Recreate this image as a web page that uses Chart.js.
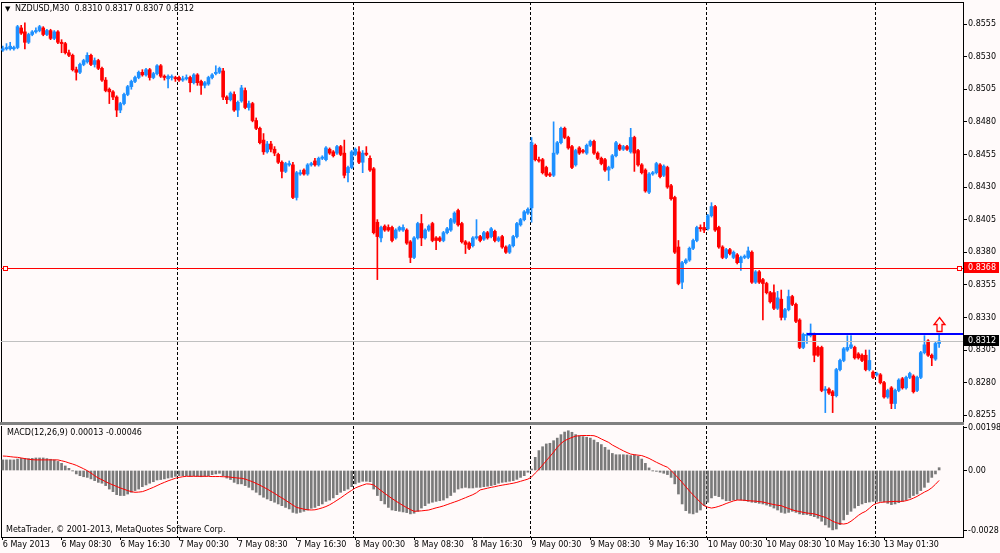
<!DOCTYPE html>
<html>
<head>
<meta charset="utf-8">
<title>NZDUSD,M30</title>
<script src="https://cdn.jsdelivr.net/npm/chart.js@4.4.1/dist/chart.umd.min.js"></script>
<style>
    html, body { margin: 0; padding: 0; background: #fffafa; }
    body { width: 1000px; height: 553px; position: relative; overflow: hidden;
           font-family: "DejaVu Sans", sans-serif; font-size: 8px; color: #000; }
    #mainBox { position: absolute; left: 0; top: 0; width: 1000px; height: 424px; }
    #macdBox { position: absolute; left: 0; top: 418px; width: 1000px; height: 135px; }
    #sep { position: absolute; left: 0; top: 422px; width: 964px; height: 3px; background: #808080; }
    .lbl { position: absolute; white-space: pre; line-height: 10px; }
</style>
</head>
<body>
<div id="mainBox"><canvas id="mainChart"></canvas></div>
<div id="macdBox"><canvas id="macdChart"></canvas></div>
<div id="sep"></div>
<div class="lbl" style="left:5px;top:4px;font-size:7px">▼</div>
<div class="lbl" style="left:15px;top:4px">NZDUSD,M30  0.8310 0.8317 0.8307 0.8312</div>
<div class="lbl" style="left:7px;top:428px">MACD(12,26,9) 0.00013 -0.00046</div>
<div class="lbl" style="left:6px;top:525px">MetaTrader, © 2001-2013, MetaQuotes Software Corp.</div>

<script>
// NZDUSD M30 candles, bar 0 = 6 May 2013 00:30
const opens = [
    0.8535, 0.8536, 0.8536, 0.8536, 0.8537, 0.8552, 0.8549, 0.8541, 0.8547, 0.8549,
    0.8550, 0.8552, 0.8547, 0.8550, 0.8544, 0.8549, 0.8541, 0.8540, 0.8533, 0.8531,
    0.8520, 0.8518, 0.8524, 0.8526, 0.8531, 0.8524, 0.8527, 0.8521, 0.8512, 0.8505,
    0.8503, 0.8499, 0.8489, 0.8494, 0.8501, 0.8507, 0.8511, 0.8514, 0.8518, 0.8516,
    0.8520, 0.8514, 0.8517, 0.8523, 0.8515, 0.8513, 0.8514, 0.8514, 0.8514, 0.8512,
    0.8513, 0.8514, 0.8510, 0.8516, 0.8511, 0.8508, 0.8509, 0.8514, 0.8517, 0.8518,
    0.8519, 0.8499, 0.8497, 0.8501, 0.8489, 0.8496, 0.8504, 0.8491, 0.8494, 0.8481,
    0.8475, 0.8466, 0.8457, 0.8463, 0.8459, 0.8455, 0.8449, 0.8442, 0.8447, 0.8447,
    0.8422, 0.8440, 0.8443, 0.8440, 0.8447, 0.8450, 0.8447, 0.8452, 0.8451, 0.8459,
    0.8457, 0.8456, 0.8461, 0.8456, 0.8441, 0.8445, 0.8455, 0.8457, 0.8449, 0.8456,
    0.8452, 0.8444, 0.8403, 0.8391, 0.8400, 0.8399, 0.8399, 0.8391, 0.8397, 0.8397,
    0.8397, 0.8388, 0.8376, 0.8391, 0.8402, 0.8391, 0.8397, 0.8402, 0.8391, 0.8391,
    0.8389, 0.8395, 0.8397, 0.8403, 0.8412, 0.8402, 0.8388, 0.8387, 0.8385, 0.8391,
    0.8392, 0.8390, 0.8395, 0.8392, 0.8396, 0.8389, 0.8392, 0.8384, 0.8380, 0.8385,
    0.8392, 0.8401, 0.8405, 0.8410, 0.8414, 0.8462, 0.8451, 0.8451, 0.8445, 0.8440,
    0.8439, 0.8456, 0.8464, 0.8475, 0.8468, 0.8461, 0.8447, 0.8460, 0.8458, 0.8456,
    0.8462, 0.8465, 0.8456, 0.8452, 0.8451, 0.8443, 0.8445, 0.8454, 0.8462, 0.8459,
    0.8461, 0.8457, 0.8468, 0.8458, 0.8447, 0.8443, 0.8426, 0.8440, 0.8441, 0.8447,
    0.8439, 0.8445, 0.8431, 0.8422, 0.8384, 0.8357, 0.8372, 0.8374, 0.8383, 0.8389,
    0.8399, 0.8399, 0.8398, 0.8408, 0.8415, 0.8399, 0.8384, 0.8376, 0.8382, 0.8376,
    0.8378, 0.8372, 0.8376, 0.8376, 0.8380, 0.8357, 0.8365, 0.8359, 0.8356, 0.8349,
    0.8349, 0.8337, 0.8344, 0.8330, 0.8336, 0.8346, 0.8340, 0.8328, 0.8307, 0.8316,
    0.8316, 0.8317, 0.8307, 0.8307, 0.8274, 0.8275, 0.8273, 0.8270, 0.8290, 0.8297,
    0.8305, 0.8307, 0.8307, 0.8302, 0.8301, 0.8301, 0.8290, 0.8288, 0.8286, 0.8286,
    0.8280, 0.8269, 0.8276, 0.8264, 0.8274, 0.8283, 0.8276, 0.8284, 0.8285, 0.8274,
    0.8284, 0.8303, 0.8312, 0.8301, 0.8298, 0.8310
];
const highs = [
    0.8538, 0.8540, 0.8541, 0.8538, 0.8554, 0.8554, 0.8556, 0.8548, 0.8550, 0.8552,
    0.8554, 0.8553, 0.8551, 0.8551, 0.8550, 0.8550, 0.8543, 0.8541, 0.8535, 0.8532,
    0.8522, 0.8525, 0.8528, 0.8533, 0.8532, 0.8529, 0.8528, 0.8522, 0.8514, 0.8506,
    0.8504, 0.8500, 0.8495, 0.8502, 0.8508, 0.8512, 0.8515, 0.8519, 0.8520, 0.8521,
    0.8521, 0.8518, 0.8524, 0.8524, 0.8516, 0.8516, 0.8516, 0.8515, 0.8515, 0.8515,
    0.8516, 0.8515, 0.8517, 0.8517, 0.8512, 0.8511, 0.8515, 0.8517, 0.8523, 0.8522,
    0.8521, 0.8500, 0.8503, 0.8503, 0.8496, 0.8508, 0.8506, 0.8496, 0.8495, 0.8483,
    0.8476, 0.8471, 0.8465, 0.8465, 0.8461, 0.8456, 0.8450, 0.8449, 0.8450, 0.8449,
    0.8442, 0.8443, 0.8444, 0.8448, 0.8449, 0.8452, 0.8453, 0.8454, 0.8461, 0.8460,
    0.8458, 0.8462, 0.8462, 0.8466, 0.8446, 0.8458, 0.8460, 0.8461, 0.8458, 0.8461,
    0.8454, 0.8445, 0.8405, 0.8400, 0.8401, 0.8401, 0.8400, 0.8398, 0.8400, 0.8401,
    0.8398, 0.8389, 0.8392, 0.8403, 0.8409, 0.8398, 0.8401, 0.8403, 0.8392, 0.8392,
    0.8396, 0.8399, 0.8406, 0.8411, 0.8413, 0.8403, 0.8389, 0.8388, 0.8392, 0.8405,
    0.8393, 0.8396, 0.8396, 0.8399, 0.8397, 0.8392, 0.8393, 0.8385, 0.8386, 0.8393,
    0.8403, 0.8406, 0.8412, 0.8414, 0.8468, 0.8463, 0.8453, 0.8452, 0.8446, 0.8441,
    0.8480, 0.8465, 0.8476, 0.8476, 0.8469, 0.8462, 0.8459, 0.8461, 0.8459, 0.8463,
    0.8466, 0.8466, 0.8457, 0.8453, 0.8452, 0.8446, 0.8455, 0.8465, 0.8463, 0.8462,
    0.8462, 0.8475, 0.8469, 0.8459, 0.8448, 0.8444, 0.8441, 0.8442, 0.8449, 0.8448,
    0.8447, 0.8446, 0.8432, 0.8423, 0.8389, 0.8373, 0.8375, 0.8384, 0.8390, 0.8400,
    0.8401, 0.8403, 0.8409, 0.8418, 0.8416, 0.8400, 0.8385, 0.8383, 0.8383, 0.8381,
    0.8379, 0.8377, 0.8378, 0.8384, 0.8381, 0.8366, 0.8366, 0.8360, 0.8357, 0.8350,
    0.8355, 0.8350, 0.8351, 0.8337, 0.8351, 0.8347, 0.8341, 0.8329, 0.8318, 0.8318,
    0.8325, 0.8318, 0.8308, 0.8308, 0.8277, 0.8276, 0.8274, 0.8291, 0.8298, 0.8307,
    0.8316, 0.8316, 0.8308, 0.8303, 0.8302, 0.8305, 0.8305, 0.8289, 0.8288, 0.8287,
    0.8281, 0.8275, 0.8277, 0.8275, 0.8283, 0.8284, 0.8285, 0.8288, 0.8286, 0.8285,
    0.8304, 0.8316, 0.8313, 0.8302, 0.8311, 0.8317
];
const lows = [
    0.8534, 0.8535, 0.8535, 0.8535, 0.8536, 0.8547, 0.8536, 0.8540, 0.8546, 0.8548,
    0.8549, 0.8546, 0.8546, 0.8543, 0.8543, 0.8540, 0.8533, 0.8532, 0.8530, 0.8519,
    0.8512, 0.8517, 0.8523, 0.8525, 0.8523, 0.8522, 0.8520, 0.8511, 0.8503, 0.8494,
    0.8497, 0.8484, 0.8487, 0.8493, 0.8500, 0.8505, 0.8510, 0.8513, 0.8515, 0.8515,
    0.8512, 0.8513, 0.8516, 0.8514, 0.8512, 0.8506, 0.8512, 0.8511, 0.8511, 0.8511,
    0.8512, 0.8503, 0.8509, 0.8508, 0.8501, 0.8506, 0.8508, 0.8513, 0.8516, 0.8517,
    0.8497, 0.8494, 0.8496, 0.8488, 0.8484, 0.8495, 0.8490, 0.8489, 0.8480, 0.8474,
    0.8463, 0.8455, 0.8456, 0.8457, 0.8454, 0.8448, 0.8437, 0.8441, 0.8446, 0.8421,
    0.8420, 0.8439, 0.8439, 0.8439, 0.8446, 0.8446, 0.8446, 0.8451, 0.8450, 0.8455,
    0.8453, 0.8455, 0.8454, 0.8437, 0.8434, 0.8444, 0.8454, 0.8448, 0.8441, 0.8454,
    0.8442, 0.8394, 0.8359, 0.8388, 0.8396, 0.8396, 0.8388, 0.8390, 0.8396, 0.8396,
    0.8386, 0.8372, 0.8375, 0.8390, 0.8385, 0.8390, 0.8396, 0.8388, 0.8382, 0.8388,
    0.8388, 0.8394, 0.8396, 0.8402, 0.8400, 0.8387, 0.8379, 0.8382, 0.8384, 0.8390,
    0.8388, 0.8389, 0.8390, 0.8391, 0.8388, 0.8388, 0.8383, 0.8379, 0.8379, 0.8384,
    0.8391, 0.8400, 0.8404, 0.8409, 0.8403, 0.8450, 0.8449, 0.8440, 0.8438, 0.8438,
    0.8438, 0.8455, 0.8463, 0.8467, 0.8459, 0.8444, 0.8446, 0.8455, 0.8456, 0.8455,
    0.8461, 0.8455, 0.8451, 0.8447, 0.8442, 0.8435, 0.8444, 0.8453, 0.8458, 0.8458,
    0.8458, 0.8456, 0.8442, 0.8446, 0.8440, 0.8426, 0.8425, 0.8439, 0.8440, 0.8437,
    0.8438, 0.8429, 0.8420, 0.8379, 0.8355, 0.8352, 0.8371, 0.8373, 0.8382, 0.8388,
    0.8396, 0.8395, 0.8397, 0.8407, 0.8396, 0.8383, 0.8375, 0.8375, 0.8378, 0.8375,
    0.8371, 0.8366, 0.8375, 0.8375, 0.8356, 0.8356, 0.8356, 0.8328, 0.8348, 0.8341,
    0.8336, 0.8336, 0.8328, 0.8328, 0.8335, 0.8339, 0.8326, 0.8306, 0.8306, 0.8310,
    0.8315, 0.8296, 0.8300, 0.8273, 0.8257, 0.8271, 0.8257, 0.8269, 0.8289, 0.8296,
    0.8304, 0.8306, 0.8298, 0.8298, 0.8296, 0.8289, 0.8289, 0.8283, 0.8285, 0.8279,
    0.8268, 0.8268, 0.8260, 0.8260, 0.8273, 0.8275, 0.8275, 0.8283, 0.8272, 0.8273,
    0.8283, 0.8302, 0.8300, 0.8293, 0.8297, 0.8307
];
const closes = [
    0.8536, 0.8537, 0.8538, 0.8537, 0.8553, 0.8548, 0.8541, 0.8547, 0.8549, 0.8550,
    0.8553, 0.8547, 0.8550, 0.8544, 0.8549, 0.8541, 0.8540, 0.8533, 0.8531, 0.8520,
    0.8518, 0.8524, 0.8527, 0.8531, 0.8524, 0.8527, 0.8521, 0.8512, 0.8504, 0.8503,
    0.8499, 0.8489, 0.8494, 0.8501, 0.8507, 0.8511, 0.8514, 0.8518, 0.8516, 0.8520,
    0.8514, 0.8517, 0.8523, 0.8515, 0.8514, 0.8515, 0.8514, 0.8513, 0.8512, 0.8513,
    0.8514, 0.8510, 0.8516, 0.8510, 0.8508, 0.8510, 0.8514, 0.8516, 0.8518, 0.8521,
    0.8499, 0.8497, 0.8502, 0.8489, 0.8495, 0.8506, 0.8491, 0.8494, 0.8481, 0.8475,
    0.8464, 0.8457, 0.8463, 0.8459, 0.8456, 0.8449, 0.8442, 0.8448, 0.8448, 0.8422,
    0.8441, 0.8441, 0.8440, 0.8447, 0.8448, 0.8447, 0.8452, 0.8453, 0.8460, 0.8456,
    0.8454, 0.8461, 0.8455, 0.8439, 0.8445, 0.8457, 0.8459, 0.8449, 0.8456, 0.8455,
    0.8443, 0.8395, 0.8392, 0.8399, 0.8397, 0.8397, 0.8389, 0.8397, 0.8399, 0.8399,
    0.8387, 0.8376, 0.8391, 0.8402, 0.8391, 0.8397, 0.8400, 0.8389, 0.8389, 0.8389,
    0.8395, 0.8398, 0.8405, 0.8410, 0.8401, 0.8388, 0.8386, 0.8383, 0.8391, 0.8392,
    0.8389, 0.8395, 0.8391, 0.8398, 0.8389, 0.8391, 0.8384, 0.8380, 0.8385, 0.8392,
    0.8402, 0.8405, 0.8411, 0.8413, 0.8464, 0.8451, 0.8450, 0.8441, 0.8439, 0.8439,
    0.8456, 0.8464, 0.8475, 0.8468, 0.8460, 0.8445, 0.8458, 0.8456, 0.8457, 0.8462,
    0.8465, 0.8456, 0.8452, 0.8448, 0.8443, 0.8445, 0.8454, 0.8464, 0.8459, 0.8461,
    0.8459, 0.8468, 0.8456, 0.8447, 0.8441, 0.8427, 0.8440, 0.8441, 0.8448, 0.8438,
    0.8446, 0.8430, 0.8421, 0.8380, 0.8356, 0.8372, 0.8374, 0.8383, 0.8389, 0.8399,
    0.8398, 0.8397, 0.8408, 0.8415, 0.8397, 0.8384, 0.8376, 0.8382, 0.8379, 0.8380,
    0.8372, 0.8376, 0.8377, 0.8381, 0.8357, 0.8365, 0.8357, 0.8356, 0.8349, 0.8342,
    0.8337, 0.8345, 0.8330, 0.8336, 0.8346, 0.8340, 0.8327, 0.8307, 0.8317, 0.8317,
    0.8318, 0.8301, 0.8301, 0.8274, 0.8275, 0.8272, 0.8270, 0.8290, 0.8297, 0.8306,
    0.8307, 0.8309, 0.8299, 0.8299, 0.8297, 0.8290, 0.8297, 0.8284, 0.8287, 0.8280,
    0.8269, 0.8274, 0.8264, 0.8274, 0.8282, 0.8276, 0.8284, 0.8287, 0.8273, 0.8284,
    0.8303, 0.8309, 0.8301, 0.8299, 0.8310, 0.8312
];

// MACD(12,26,9), values in units of 0.00001
const macdMain = [
    49, 49, 49, 49, 53, 56, 56, 55, 56, 58, 58, 58, 55, 52, 49, 42, 33, 21, 10, -1,
    -16, -24, -29, -32, -39, -47, -55, -59, -70, -86, -98, -112, -116, -116, -109, -101, -93, -86, -75, -67,
    -59, -52, -44, -42, -39, -35, -32, -27, -24, -24, -24, -27, -24, -27, -29, -27, -24, -19, -16, -13,
    -24, -35, -42, -55, -62, -62, -70, -78, -90, -101, -113, -124, -132, -140, -147, -155, -163, -171, -178, -194,
    -198, -194, -189, -183, -175, -171, -163, -155, -143, -137, -127, -112, -101, -93, -86, -75, -62, -55, -50, -50,
    -52, -86, -116, -140, -155, -171, -183, -186, -189, -192, -195, -201, -198, -189, -174, -163, -152, -147, -143, -140,
    -137, -127, -116, -101, -86, -81, -78, -81, -81, -78, -78, -75, -73, -70, -66, -59, -55, -53, -50, -47,
    -41, -32, -24, -8, 7, 61, 92, 110, 123, 126, 138, 150, 166, 178, 184, 177, 166, 160, 157, 154,
    150, 141, 130, 120, 107, 95, 79, 73, 73, 73, 72, 69, 73, 66, 53, 33, 12, -1, -4, -8,
    -13, -19, -32, -62, -109, -155, -186, -198, -201, -194, -183, -163, -147, -127, -116, -121, -132, -140, -140, -137,
    -135, -137, -140, -143, -147, -149, -152, -155, -160, -166, -174, -183, -194, -198, -194, -189, -194, -201, -204, -204,
    -209, -214, -221, -235, -252, -263, -275, -271, -251, -229, -204, -189, -174, -163, -155, -149, -146, -143, -143, -143,
    -146, -152, -158, -155, -149, -143, -137, -127, -116, -109, -93, -78, -55, -32, -16, 13
];
const macdSignal = [
    67, 66, 64, 62, 61, 58, 55, 52, 50, 49, 49, 49, 49, 49, 49, 49, 45, 41, 35, 30,
    24, 16, 8, -1, -12, -24, -35, -43, -52, -60, -67, -74, -81, -87, -93, -98, -101, -100, -98, -92,
    -85, -78, -70, -62, -55, -48, -42, -36, -32, -29, -27, -27, -27, -27, -27, -27, -27, -28, -28, -28,
    -29, -29, -31, -33, -35, -36, -40, -46, -52, -60, -68, -77, -86, -96, -106, -117, -127, -138, -149, -160,
    -171, -175, -179, -182, -183, -182, -178, -173, -167, -159, -149, -138, -127, -115, -103, -92, -81, -74, -68, -62,
    -63, -67, -80, -93, -106, -118, -130, -141, -152, -162, -172, -181, -189, -188, -187, -185, -183, -178, -173, -169,
    -164, -158, -152, -146, -140, -133, -126, -119, -112, -103, -90, -86, -82, -78, -75, -71, -68, -65, -62, -59,
    -55, -50, -45, -40, -30, -12, 5, 25, 45, 65, 85, 107, 125, 138, 146, 153, 159, 161, 162, 162,
    162, 161, 155, 146, 138, 130, 118, 109, 100, 91, 83, 76, 73, 71, 69, 63, 56, 47, 38, 30,
    22, 15, 0, -18, -36, -55, -75, -95, -113, -130, -148, -163, -170, -174, -171, -166, -160, -153, -147, -141,
    -137, -137, -138, -140, -141, -142, -144, -146, -150, -154, -158, -161, -163, -170, -176, -182, -187, -190, -194, -197,
    -199, -201, -206, -212, -217, -225, -235, -242, -246, -248, -245, -235, -222, -208, -197, -189, -175, -160, -152, -148,
    -146, -145, -144, -143, -143, -143, -140, -135, -128, -120, -110, -100, -92, -80, -64, -46
];
const MACD_UNIT = 0.00001;

// axis ticks
const priceTicks = [0.8255, 0.8280, 0.8305, 0.8330, 0.8355, 0.8380, 0.8405, 0.8430, 0.8455, 0.8480, 0.8505, 0.8530, 0.8555];
const priceMin = 0.82498;
const priceMax = 0.85719;
const macdTicks = [0.00198, 0, -0.0028];
const macdTickLabels = ['0.00198', '0.00', '-0.0028'];
const macdMin = -0.00308;
const macdMax = 0.00206;
const timeTickBars = [0, 16, 32, 48, 64, 80, 96, 112, 128, 144, 160, 176, 192, 208, 224, 240];
const timeTickLabels = ['6 May 2013', '6 May 08:30', '6 May 16:30', '7 May 00:30', '7 May 08:30',
    '7 May 16:30', '8 May 00:30', '8 May 08:30', '8 May 16:30', '9 May 00:30', '9 May 08:30',
    '9 May 16:30', '10 May 00:30', '10 May 08:30', '10 May 16:30', '13 May 01:30'];
const dayStartBars = [48, 96, 144, 192, 238];

// chart objects
const levelPrice = 0.8368;
const bidPrice = 0.8312;
const resistancePrice = 0.8317;
const resistanceFromBar = 219;
const arrowBar = 255;
const arrowPrice = 0.8330;

const SLOT_COUNT = 262; // bars plus the empty shift on the right
const slots = Array.from({ length: SLOT_COUNT }, (_, i) => String(i));

const UP = '#1e90ff';
const DOWN = '#ff0000';
const candleColors = closes.map((c, i) => (c >= opens[i] ? UP : DOWN));

Chart.defaults.font.family = "'DejaVu Sans', sans-serif";
Chart.defaults.font.size = 8;
Chart.defaults.color = '#000';

const axisFont = { family: "'DejaVu Sans', sans-serif", size: 8 };

function fitY(scale) {
    scale.width = 37;
    scale.paddingTop = 0;
    scale.paddingBottom = 0;
}

function crisp(v) {
    return Math.round(v) + 0.5;
}

function drawFrameAndSeparators(chart) {
    const { ctx, chartArea: a, scales: { x } } = chart;
    ctx.save();
    ctx.strokeStyle = '#000';
    ctx.lineWidth = 1;
    ctx.setLineDash([3, 2]);
    dayStartBars.forEach(b => {
        const px = crisp(x.getPixelForValue(b - 0.5));
        ctx.beginPath();
        ctx.moveTo(px, a.top);
        ctx.lineTo(px, a.bottom);
        ctx.stroke();
    });
    ctx.setLineDash([]);
    ctx.beginPath();
    ctx.moveTo(1.5, a.top);
    ctx.lineTo(1.5, a.bottom);
    ctx.stroke();
    ctx.restore();
}

// price tag on the right axis
function axisBox(ctx, a, y, bg, text) {
    const top = Math.round(y) - 6;
    ctx.fillStyle = bg;
    ctx.fillRect(a.right + 1, top, 35, 11);
    ctx.fillStyle = '#fff';
    ctx.font = "8px 'DejaVu Sans'";
    ctx.textBaseline = 'middle';
    ctx.textAlign = 'left';
    ctx.fillText(text, a.right + 5, top + 5.5);
}

const mainOverlay = {
    id: 'mainOverlay',
    beforeDatasetsDraw(chart) {
        drawFrameAndSeparators(chart);
        const { ctx, chartArea: a } = chart;
        ctx.save();
        ctx.strokeStyle = '#000';
        ctx.beginPath();
        ctx.moveTo(1, a.top + 0.5);
        ctx.lineTo(a.right, a.top + 0.5);
        ctx.stroke();
        ctx.restore();
    },
    afterDatasetsDraw(chart) {
        const { ctx, chartArea: a, scales: { x, y } } = chart;
        ctx.save();
        // bid line
        const yb = crisp(y.getPixelForValue(bidPrice));
        ctx.strokeStyle = '#c0c0c0';
        ctx.lineWidth = 1;
        ctx.beginPath();
        ctx.moveTo(a.left, yb);
        ctx.lineTo(a.right, yb);
        ctx.stroke();
        // horizontal level
        const yl = crisp(y.getPixelForValue(levelPrice));
        ctx.strokeStyle = '#ff0000';
        ctx.beginPath();
        ctx.moveTo(a.left, yl);
        ctx.lineTo(a.right, yl);
        ctx.stroke();
        ctx.fillStyle = '#fffafa';
        [a.left + 3, a.right - 5].forEach(px => {
            ctx.fillRect(px - 0.5, yl - 2, 4, 4);
            ctx.strokeRect(px - 0.5, yl - 2, 4, 4);
        });
        // resistance line
        const yr = y.getPixelForValue(resistancePrice);
        ctx.strokeStyle = '#0000ff';
        ctx.lineWidth = 2;
        ctx.beginPath();
        ctx.moveTo(x.getPixelForValue(resistanceFromBar), Math.round(yr));
        ctx.lineTo(a.right, Math.round(yr));
        ctx.stroke();
        // buy arrow
        const ax = Math.round(x.getPixelForValue(arrowBar)) + 0.5;
        const ay = Math.round(y.getPixelForValue(arrowPrice)) + 0.5;
        ctx.strokeStyle = '#ff0000';
        ctx.lineWidth = 1.3;
        ctx.fillStyle = '#fffafa';
        ctx.beginPath();
        ctx.moveTo(ax, ay);
        ctx.lineTo(ax + 5.5, ay + 7);
        ctx.lineTo(ax + 2.5, ay + 7);
        ctx.lineTo(ax + 2.5, ay + 14);
        ctx.lineTo(ax - 2.5, ay + 14);
        ctx.lineTo(ax - 2.5, ay + 7);
        ctx.lineTo(ax - 5.5, ay + 7);
        ctx.closePath();
        ctx.fill();
        ctx.stroke();
        ctx.restore();
    },
    afterDraw(chart) {
        const { ctx, chartArea: a, scales: { y } } = chart;
        ctx.save();
        axisBox(ctx, a, y.getPixelForValue(levelPrice), '#ff0000', levelPrice.toFixed(4));
        axisBox(ctx, a, y.getPixelForValue(bidPrice), '#000000', bidPrice.toFixed(4));
        ctx.restore();
    }
};

const macdOverlay = {
    id: 'macdOverlay',
    beforeDatasetsDraw(chart) {
        drawFrameAndSeparators(chart);
    }
};

new Chart(document.getElementById('mainChart'), {
    type: 'bar',
    data: {
        labels: slots,
        datasets: [
            {
                label: 'body',
                data: opens.map((o, i) => [o, closes[i]]),
                backgroundColor: candleColors,
                barThickness: 3,
                minBarLength: 1,
                grouped: false
            },
            {
                label: 'wick',
                data: lows.map((l, i) => [l, highs[i]]),
                backgroundColor: candleColors,
                barThickness: 1,
                grouped: false
            }
        ]
    },
    options: {
        responsive: true,
        maintainAspectRatio: false,
        animation: false,
        layout: { padding: { left: 1, top: 2, right: 0, bottom: 2 } },
        plugins: { legend: { display: false }, tooltip: { enabled: false } },
        scales: {
            x: { display: false },
            y: {
                position: 'right',
                min: priceMin,
                max: priceMax,
                afterFit: fitY,
                afterBuildTicks: s => { s.ticks = priceTicks.map(v => ({ value: v })); },
                ticks: { font: axisFont, color: '#000', padding: 1, callback: v => v.toFixed(4) },
                grid: { drawOnChartArea: false, drawTicks: true, tickLength: 4, color: '#000' },
                border: { display: true, color: '#000' }
            }
        }
    },
    plugins: [mainOverlay]
});

new Chart(document.getElementById('macdChart'), {
    type: 'bar',
    data: {
        labels: slots,
        datasets: [
            {
                type: 'line',
                label: 'Signal',
                data: macdSignal.map(v => v * MACD_UNIT),
                borderColor: '#ff0000',
                borderWidth: 1,
                pointRadius: 0,
                tension: 0
            },
            {
                type: 'bar',
                label: 'MACD',
                data: macdMain.map(v => v * MACD_UNIT),
                backgroundColor: '#7a7a7a',
                barThickness: 2
            }
        ]
    },
    options: {
        responsive: true,
        maintainAspectRatio: false,
        animation: false,
        layout: { padding: { left: 1, top: 8, right: 0, bottom: 0 } },
        plugins: { legend: { display: false }, tooltip: { enabled: false } },
        scales: {
            x: {
                position: 'bottom',
                afterFit: s => { s.height = 16; s.paddingLeft = 0; s.paddingRight = 0; },
                afterBuildTicks: s => { s.ticks = timeTickBars.map(v => ({ value: v })); },
                ticks: {
                    autoSkip: false,
                    maxRotation: 0,
                    align: 'start',
                    labelOffset: 0,
                    padding: 0,
                    font: axisFont,
                    color: '#000',
                    callback: v => timeTickLabels[timeTickBars.indexOf(v)]
                },
                grid: { drawOnChartArea: false, drawTicks: true, tickLength: 3, offset: false, color: '#000' },
                border: { display: true, color: '#000' }
            },
            y: {
                position: 'right',
                min: macdMin,
                max: macdMax,
                afterFit: fitY,
                afterBuildTicks: s => { s.ticks = macdTicks.map(v => ({ value: v })); },
                ticks: {
                    font: axisFont,
                    color: '#000',
                    padding: 1,
                    callback: v => macdTickLabels[macdTicks.indexOf(v)]
                },
                grid: { drawOnChartArea: false, drawTicks: true, tickLength: 4, color: '#000' },
                border: { display: true, color: '#000' }
            }
        }
    },
    plugins: [macdOverlay]
});
</script>
</body>
</html>
